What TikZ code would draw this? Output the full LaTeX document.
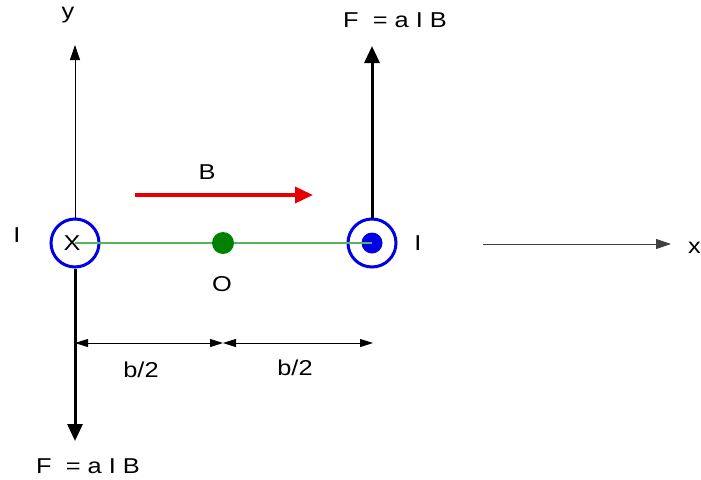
\documentclass[tikz,border=0pt]{standalone}
\usepackage{fontspec}
\setmainfont{Liberation Sans}
\newfontfamily\widefont[FakeStretch=1.18]{Liberation Sans}
\usetikzlibrary{arrows.meta}
\definecolor{wire}{RGB}{0,0,230}
\definecolor{dotgreen}{RGB}{0,130,0}
\definecolor{linegreen}{RGB}{90,180,90}
\definecolor{bred}{RGB}{230,0,0}
\tikzset{
  lbl/.style={font=\widefont\fontsize{21.5}{24}\selectfont, inner sep=0pt},
  wirering/.style={circle, draw=wire, line width=3pt, minimum size=48pt, inner sep=0pt},
  thinaxis/.style={line width=0.9pt, -{Triangle[length=15pt,width=10pt]}},
  force/.style={line width=3pt, -{Triangle[length=17pt,width=15pt]}},
  dim/.style={line width=0.9pt, {Triangle[length=13pt,width=8pt]}-{Triangle[length=13pt,width=8pt]}}
}
\begin{document}
\begin{tikzpicture}[x=1pt,y=-1pt]
\useasboundingbox (0,0) rectangle (701,479);
% wires
\node[wirering] (L) at (75,243) {};
\node[wirering] (R) at (372,243) {};
\node[circle, fill=wire, minimum size=21pt, inner sep=0pt] (Rdot) at (372,243) {};
\node[circle, fill=dotgreen, minimum size=22pt, inner sep=0pt] (O) at (223,243) {};
% green line
\draw[linegreen, line width=1.2pt] (L.center) -- (O) -- (Rdot.center);
\node[lbl] (X) at (72,243) {X};
% y axis
\coordinate (ytip) at (75,45);
\draw[thinaxis] (L.north) -- (ytip);
\node[lbl] (ylab) at (68,15) {y};
% x axis
\coordinate (xs) at (483,244);
\coordinate (xe) at (671,244);
\draw[thinaxis, black!75] (xs) -- (xe);
\node[lbl, anchor=east] (xlab) at (701,248) {x};
% forces
\coordinate (Ftop) at (372,46);
\coordinate (Fbot) at (75,441);
\draw[force] (R.north) -- (Ftop);
\draw[force] (L.south) -- (Fbot);
\node[lbl] (Ftoplab) at (395,20) {F \ = a I B};
\node[lbl] (Fbotlab) at (88,466) {F \ = a I B};
% currents
\node[lbl] (IL) at (17,235) {I};
\node[lbl] (IR) at (418,243) {I};
% B field
\coordinate (Bs) at (135,195);
\coordinate (Be) at (313,195);
\draw[bred, line width=3.5pt, -{Triangle[length=18pt,width=16pt]}] (Bs) -- (Be);
\node[lbl] (Blab) at (207,172) {B};
\node[lbl] (Olab) at (222,284) {O};
% dimensions
\coordinate (d1) at (75,343);
\coordinate (d2) at (223,343);
\coordinate (d3) at (373,343);
\draw[dim] (d1) -- (d2);
\draw[dim] (d2) -- (d3);
\node[lbl] (b1) at (141,370) {b/2};
\node[lbl] (b2) at (295,368) {b/2};
\end{tikzpicture}
\end{document}
